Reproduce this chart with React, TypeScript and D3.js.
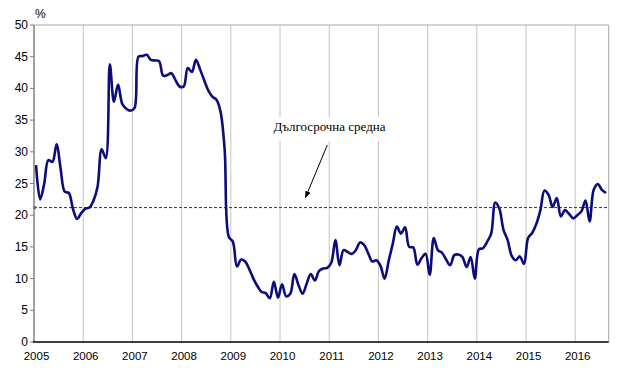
import React from "react";
import * as d3 from "d3";

// Monthly values, Jan 2005 – Aug 2016 (%)
const startYear = 2005;
const values2005 = [27.9, 22.5, 25.0, 28.7, 28.4, 31.2, 27.3, 23.7, 23.5, 21.0, 19.4, 20.3];
const values2006 = [21.0, 21.2, 22.3, 24.5, 30.4, 29.0, 43.8, 37.9, 40.6, 37.6, 36.8, 36.5];
const values2007 = [36.9, 45.0, 45.1, 45.3, 44.5, 44.4, 44.3, 42.0, 42.1, 42.4, 41.3, 40.3];
const values2008 = [40.3, 43.2, 42.6, 44.5, 43.0, 41.3, 39.7, 38.7, 38.2, 36.3, 30.3, 16.6];
const values2009 = [15.8, 11.9, 13.0, 12.7, 11.5, 10.0, 8.8, 7.9, 7.7, 6.9, 9.5, 7.0];
const values2010 = [9.1, 7.2, 7.6, 10.7, 9.0, 7.6, 9.2, 10.7, 9.7, 11.2, 11.6, 11.7];
const values2011 = [12.5, 16.1, 12.1, 14.5, 14.2, 13.9, 14.5, 15.7, 15.3, 14.0, 12.7, 12.9];
const values2012 = [12.0, 10.0, 12.8, 15.5, 18.2, 17.1, 18.1, 15.0, 14.9, 12.2, 13.2, 13.9];
const values2013 = [10.6, 16.4, 14.5, 14.1, 13.0, 12.1, 13.7, 13.8, 13.4, 11.8, 13.4, 10.0];
const values2014 = [14.6, 14.8, 15.8, 17.1, 22.0, 21.0, 17.7, 16.1, 13.6, 12.9, 13.5, 12.3];
const values2015 = [16.4, 17.2, 18.6, 20.8, 23.9, 23.2, 21.3, 22.7, 19.8, 20.8, 20.2, 19.5];
const values2016 = [20.0, 20.6, 22.3, 19.0, 24.0, 24.9, 24.0, 23.5];

const longTermAverage = 21.2;
const yTicks = [0, 5, 10, 15, 20, 25, 30, 35, 40, 45, 50];
const xTickYears = [2005, 2006, 2007, 2008, 2009, 2010, 2011, 2012, 2013, 2014, 2015, 2016];
const annotationText = "Дългосрочна средна";
const unitLabel = "%";

const allValues = [
  ...values2005, ...values2006, ...values2007, ...values2008, ...values2009, ...values2010,
  ...values2011, ...values2012, ...values2013, ...values2014, ...values2015, ...values2016,
];
const series = allValues.map((v, i) => ({ t: startYear + (i + 0.5) / 12, v }));

export default function App() {
  const W = 630, H = 373;
  const left = 34, right = 608.7, top = 25, bottom = 342;
  const x = d3.scaleLinear().domain([2005, 2016.68]).range([left, right]);
  const y = d3.scaleLinear().domain([0, 50]).range([bottom, top]);
  const line = d3
    .line<{ t: number; v: number }>()
    .x((d) => x(d.t))
    .y((d) => y(d.v))
    .curve(d3.curveCatmullRom.alpha(0.5));
  const sans = "'Liberation Sans', Arial, sans-serif";
  const serif = "'Liberation Serif', 'Times New Roman', serif";

  return (
    <svg width={W} height={H} style={{ position: "absolute", left: 0, top: 0, background: "#fff" }}>
      {/* vertical year gridlines */}
      {xTickYears.slice(1).map((yr) => (
        <line key={yr} x1={x(yr)} x2={x(yr)} y1={top} y2={bottom} stroke="#c4c4c4" strokeWidth={1} />
      ))}
      {/* top & right border */}
      <line x1={left} x2={right} y1={top} y2={top} stroke="#a6a6a6" strokeWidth={1} />
      <line x1={right} x2={right} y1={top} y2={bottom} stroke="#a6a6a6" strokeWidth={1} />

      {/* annotation background box */}
      <rect x={268} y={117} width={124} height={24} fill="#fff" />
      <text x={329.5} y={131} textAnchor="middle" fontFamily={serif} fontSize={13} fill="#000">
        {annotationText}
      </text>
      <defs>
        <marker id="arrow" viewBox="0 0 10 10" refX={9} refY={5} markerWidth={7} markerHeight={7} orient="auto">
          <path d="M0,1 L10,5 L0,9 z" fill="#000" />
        </marker>
      </defs>
      <line x1={327.3} y1={145} x2={305.5} y2={197.5} stroke="#000" strokeWidth={1} markerEnd="url(#arrow)" />

      {/* long-term average */}
      <line
        x1={left}
        x2={right}
        y1={y(longTermAverage)}
        y2={y(longTermAverage)}
        stroke="#333"
        strokeWidth={1}
        strokeDasharray="3,2"
      />
      <rect x={left - 1} y={y(longTermAverage) - 1.5} width={3} height={3} fill="#d020c0" />

      {/* series */}
      <path d={line(series) || ""} fill="none" stroke="#0c0c7c" strokeWidth={2.6} strokeLinejoin="round" />

      {/* left axis */}
      <line x1={left} x2={left} y1={top} y2={bottom} stroke="#808080" strokeWidth={1.5} />
      {yTicks.map((t) => (
        <g key={t}>
          <line x1={left - 4} x2={left} y1={y(t)} y2={y(t)} stroke="#808080" strokeWidth={1} />
          <text x={left - 6} y={y(t) + 4} textAnchor="end" fontFamily={sans} fontSize={12} fill="#000">
            {t}
          </text>
        </g>
      ))}
      <text x={35} y={18} fontFamily={sans} fontSize={12} fill="#000">
        {unitLabel}
      </text>

      {/* bottom axis */}
      <line x1={left - 1} x2={right} y1={bottom} y2={bottom} stroke="#000" strokeWidth={1.5} />
      {xTickYears.map((yr) => (
        <text key={yr} x={x(yr) + 2.5} y={bottom + 18} textAnchor="middle" fontFamily={sans} fontSize={11.5} fill="#000">
          {yr}
        </text>
      ))}
    </svg>
  );
}
